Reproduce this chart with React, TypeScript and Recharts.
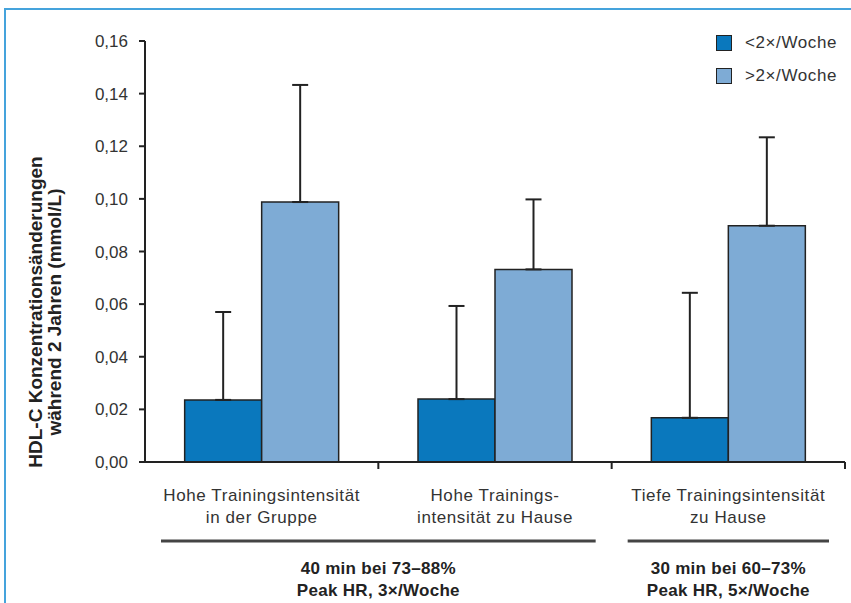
import { BarChart, Bar, XAxis, YAxis, ErrorBar, Legend } from "recharts";

const categories = [
  "Hohe Trainingsintensität\nin der Gruppe",
  "Hohe Trainings-\nintensität zu Hause",
  "Tiefe Trainingsintensität\nzu Hause",
];
const lowFreq = [0.0236, 0.0239, 0.0168];
const lowFreqErr = [0.0334, 0.0354, 0.0475];
const highFreq = [0.0988, 0.0732, 0.0898];
const highFreqErr = [0.0445, 0.0266, 0.0336];
const yTicks = [0, 0.02, 0.04, 0.06, 0.08, 0.1, 0.12, 0.14, 0.16];

// groups of categories shown under the axis (start index, end index exclusive)
const groupLabels = [
  ["40 min bei 73–88%", "Peak HR, 3×/Woche"],
  ["30 min bei 60–73%", "Peak HR, 5×/Woche"],
];
const groupStart = [0, 2];
const groupEnd = [2, 3];

const data = categories.map((c, i) => ({
  category: c,
  low: lowFreq[i],
  lowErr: [0, lowFreqErr[i]],
  high: highFreq[i],
  highErr: [0, highFreqErr[i]],
}));

const W = 851;
const H = 603;
const MARGIN = { top: 41, right: 6, left: 85, bottom: 0 };
const Y_W = 60;
const PLOT_W = W - MARGIN.left - MARGIN.right - Y_W;
const UNIT = PLOT_W / categories.length;

const DARK = "#0a78bd";
const LIGHT = "#7eabd5";
const INK = "#222";
const TXT = "#333";
const SANS = "Liberation Sans, Arial, sans-serif";

const CatTick = (props: any) => {
  const { x, y, payload, index } = props;
  const lines = String(payload.value).split("\n");
  const gi = groupStart.indexOf(index);
  return (
    <g fontFamily={SANS}>
      <line x1={x + UNIT / 2} x2={x + UNIT / 2} y1={y} y2={y + 7} stroke={INK} strokeWidth={2} />
      {lines.map((l, i) => (
        <text key={i} x={x} y={y + 39 + i * 22} textAnchor="middle" fontSize={17} letterSpacing={0.6} fill={TXT}>
          {l}
        </text>
      ))}
      {gi >= 0 && (() => {
        const span = (groupEnd[gi] - groupStart[gi]) * UNIT;
        const cx = x - UNIT / 2 + span / 2;
        const half = span / 2 - 16;
        return (
          <g>
            <line x1={cx - half} x2={cx + half} y1={y + 79} y2={y + 79} stroke="#444" strokeWidth={3} />
            {groupLabels[gi].map((l, i) => (
              <text key={i} x={cx} y={y + 112 + i * 22} textAnchor="middle" fontWeight="bold" fontSize={17} letterSpacing={0.3} fill={INK}>
                {l}
              </text>
            ))}
          </g>
        );
      })()}
    </g>
  );
};

const YLabel = () => (
  <g fontFamily={SANS} fontWeight="bold" fontSize={19} fill={INK}>
    <text x={35} y={312} transform="rotate(-90 35 312)" textAnchor="middle" dominantBaseline="central">
      HDL-C Konzentrationsänderungen
    </text>
    <text x={54} y={312} transform="rotate(-90 54 312)" textAnchor="middle" dominantBaseline="central">
      während 2 Jahren (mmol/L)
    </text>
  </g>
);

const LegendBox = (props: any) => (
  <div style={{ fontFamily: SANS, fontSize: 17, letterSpacing: 0.6, color: TXT }}>
    {(props.payload || []).map((p: any, i: number) => (
      <div key={i} style={{ display: "flex", alignItems: "center", height: 33 }}>
        <span
          style={{
            display: "inline-block",
            width: 14,
            height: 14,
            background: p.color,
            border: `1.5px solid ${INK}`,
            marginRight: 13,
          }}
        />
        <span>{p.value}</span>
      </div>
    ))}
  </div>
);

export default function App() {
  return (
    <div style={{ position: "absolute", left: 0, top: 0, width: W, height: H, background: "#fff" }}>
      <div
        style={{
          position: "absolute",
          left: 4,
          top: 8,
          right: 0,
          bottom: 0,
          borderTop: "2px solid #45a3dc",
          borderLeft: "2px solid #45a3dc",
        }}
      />
      <BarChart width={W} height={H} data={data} margin={MARGIN} barCategoryGap="17%" barGap={0}>
        <XAxis
          dataKey="category"
          height={141}
          tickSize={0}
          tickMargin={0}
          tickLine={false}
          axisLine={{ stroke: INK, strokeWidth: 2 }}
          interval={0}
          tick={<CatTick />}
        />
        <YAxis
          width={Y_W}
          domain={[0, 0.16]}
          ticks={yTicks}
          interval={0}
          tickSize={6}
          tickMargin={11}
          axisLine={{ stroke: INK, strokeWidth: 2 }}
          tickLine={{ stroke: INK, strokeWidth: 2 }}
          tick={{ fill: TXT, fontSize: 17, fontFamily: SANS }}
          tickFormatter={(v: number) => v.toFixed(2).replace(".", ",")}
          label={<YLabel />}
        />
        <Legend
          layout="vertical"
          align="center"
          verticalAlign="middle"
          wrapperStyle={{ top: 26, left: 716, width: 130, right: "auto", bottom: "auto" }}
          content={<LegendBox />}
        />
        <Bar dataKey="low" name="<2×/Woche" fill={DARK} stroke={INK} strokeWidth={1.5} isAnimationActive={false}>
          <ErrorBar dataKey="lowErr" width={8} stroke={INK} strokeWidth={2} direction="y" />
        </Bar>
        <Bar dataKey="high" name=">2×/Woche" fill={LIGHT} stroke={INK} strokeWidth={1.5} isAnimationActive={false}>
          <ErrorBar dataKey="highErr" width={8} stroke={INK} strokeWidth={2} direction="y" />
        </Bar>
      </BarChart>
    </div>
  );
}
